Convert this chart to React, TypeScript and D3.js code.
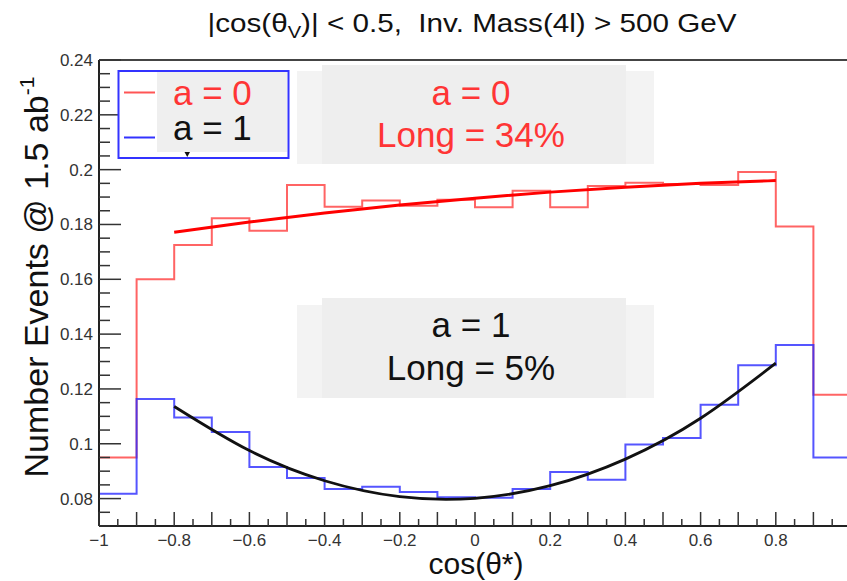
import * as d3 from "d3";

// bin lower edges (bin width 0.1)
const binLow = [-1, -0.9, -0.8, -0.7, -0.6, -0.5, -0.4, -0.3, -0.2, -0.1, 0, 0.1, 0.2, 0.3, 0.4, 0.5, 0.6, 0.7, 0.8, 0.9];
const binHigh = 1;

// a = 0 histogram
const a0Values = [0.095, 0.16, 0.1725, 0.1823, 0.1777, 0.1944, 0.1865, 0.1887, 0.1868, 0.189, 0.1863, 0.1923, 0.1863, 0.194, 0.1952, 0.1948, 0.1944, 0.1991, 0.1793, 0.1179];
// a = 1 histogram
const a1Values = [0.0818, 0.1163, 0.1096, 0.1043, 0.0915, 0.0875, 0.0835, 0.0843, 0.0824, 0.0805, 0.0803, 0.0835, 0.0897, 0.0869, 0.0997, 0.1021, 0.1142, 0.1286, 0.136, 0.095];

// fit curves
const fitX = [-0.8, -0.6, -0.4, -0.2, 0, 0.2, 0.4, 0.6, 0.8];
const a0Fit = [0.1772, 0.1809, 0.1842, 0.1871, 0.1896, 0.1918, 0.1936, 0.195, 0.196];
const a1Fit = [0.1136, 0.0975, 0.0865, 0.0807, 0.0801, 0.0847, 0.0944, 0.1093, 0.1294];

const yTickLabels = [0.08, 0.1, 0.12, 0.14, 0.16, 0.18, 0.2, 0.22, 0.24];
const xTickLabels = [-1, -0.8, -0.6, -0.4, -0.2, 0, 0.2, 0.4, 0.6, 0.8, 1];

const W = 847;
const H = 581;
const FONT = "'Liberation Sans', Arial, Helvetica, sans-serif";
const RED_TXT = "#ff3535";

export default function App() {
  const x = d3.scaleLinear().domain([-1, 1]).range([99, 851]);
  const y = d3.scaleLinear().domain([0.07, 0.24]).range([526, 60]);

  const step = d3
    .line<[number, number]>()
    .x((d) => x(d[0]))
    .y((d) => y(d[1]))
    .curve(d3.curveStepAfter);

  const histPts = (vals: number[]) => {
    const pts: [number, number][] = binLow.map((b, i) => [b, vals[i]]);
    pts.push([binHigh, vals[vals.length - 1]]);
    return pts;
  };

  const smooth = d3
    .line<number>()
    .x((_, i) => x(fitX[i]))
    .y((d) => y(d))
    .curve(d3.curveNatural);

  // ticks
  const yMinor = d3.range(0.07, 0.2401, 0.005);
  const xMajor = d3.range(-1, 1.001, 0.1);
  const xMinor = d3.range(-0.95, 1, 0.1);

  const yAxisX = x(-1);
  const xAxisY = y(0.07);

  return (
    <div style={{ position: "fixed", left: 0, top: 0 }}>
      <svg width={W} height={H} style={{ display: "block", background: "#fff" }} fontFamily={FONT}>
        {/* title */}
        <text x={472} y={32} fontSize={25} textAnchor="middle" fill="#111" style={{ whiteSpace: "pre" }} textLength={529} lengthAdjust="spacingAndGlyphs">
          {"|cos(θ"}
          <tspan fontSize={17} dy={6}>V</tspan>
          <tspan dy={-6}>{")| < 0.5,  Inv. Mass(4l) > 500 GeV"}</tspan>
        </text>

        {/* text boxes */}
        <rect x={297} y={71} width={357} height={93} fill="#f3f3f3" />
        <rect x={322} y={65} width={304} height={99} fill="#eeeeee" />
        <text x={471} y={105} fontSize={35} textAnchor="middle" fill={RED_TXT}>a = 0</text>
        <text x={471} y={147} fontSize={35} textAnchor="middle" fill={RED_TXT}>Long = 34%</text>

        <rect x={297} y={305} width={357} height={93} fill="#f3f3f3" />
        <rect x={322} y={298} width={304} height={100} fill="#eeeeee" />
        <text x={471} y={337} fontSize={35} textAnchor="middle" fill="#111">a = 1</text>
        <text x={471} y={380} fontSize={35} textAnchor="middle" fill="#111">Long = 5%</text>

        {/* histograms */}
        <path d={step(histPts(a0Values)) || ""} fill="none" stroke="#ff3030" strokeOpacity={0.75} strokeWidth={2} />
        <path d={step(histPts(a1Values)) || ""} fill="none" stroke="#2a2aff" strokeOpacity={0.8} strokeWidth={2} />

        {/* fits */}
        <path d={smooth(a0Fit) || ""} fill="none" stroke="#ff0000" strokeWidth={3} />
        <path d={smooth(a1Fit) || ""} fill="none" stroke="#111" strokeWidth={2.8} />

        {/* frame */}
        <line x1={yAxisX} x2={W} y1={y(0.24)} y2={y(0.24)} stroke="#444" strokeWidth={2} />
        <line x1={yAxisX} x2={yAxisX} y1={y(0.24)} y2={xAxisY} stroke="#222" strokeWidth={2} />
        <line x1={yAxisX} x2={W} y1={xAxisY} y2={xAxisY} stroke="#222" strokeWidth={2} />

        {/* y ticks */}
        {yMinor.map((v, i) => {
          const major = Math.abs(Math.round(v * 50) - v * 50) < 1e-6;
          return (
            <line key={"ym" + i} x1={yAxisX} x2={yAxisX + (major ? 22 : 11)} y1={y(v)} y2={y(v)} stroke="#333" strokeWidth={1.5} />
          );
        })}
        {yTickLabels.map((v) => (
          <text key={"yl" + v} x={93} y={y(v) + 6} fontSize={17} textAnchor="end" fill="#333">
            {d3.format("~g")(v)}
          </text>
        ))}

        {/* x ticks */}
        {xMajor.map((v, i) => (
          <line key={"xM" + i} x1={x(v)} x2={x(v)} y1={xAxisY} y2={xAxisY - 14} stroke="#333" strokeWidth={1.5} />
        ))}
        {xMinor.map((v, i) => (
          <line key={"xm" + i} x1={x(v)} x2={x(v)} y1={xAxisY} y2={xAxisY - 7} stroke="#333" strokeWidth={1.5} />
        ))}
        {xTickLabels.map((v) => (
          <text key={"xl" + v} x={x(v)} y={546} fontSize={17} textAnchor="middle" fill="#333">
            {d3.format("~g")(v)}
          </text>
        ))}

        {/* axis titles */}
        <text x={476} y={574} fontSize={30} textAnchor="middle" fill="#111">cos(θ*)</text>
        <text transform="translate(48,277) rotate(-90)" fontSize={34} textAnchor="middle" fill="#111">
          Number Events @ 1.5 ab
          <tspan fontSize={21} dy={-14}>-1</tspan>
        </text>

        {/* legend */}
        <rect x={118.5} y={71} width={170} height={87} fill="#fff" stroke="#3333ff" strokeWidth={2} />
        <rect x={157} y={72} width={130} height={80} fill="#efefef" />
        <line x1={124} x2={155} y1={92.5} y2={92.5} stroke="#ff5555" strokeWidth={2} />
        <line x1={124} x2={155} y1={137.5} y2={137.5} stroke="#3333ff" strokeWidth={2} />
        <text x={173} y={105} fontSize={35} fill={RED_TXT}>a = 0</text>
        <text x={173} y={140} fontSize={35} fill="#111">a = 1</text>
        <path d="M184.5,152 L190,152 L187.25,157 Z" fill="#111" />
      </svg>
    </div>
  );
}
